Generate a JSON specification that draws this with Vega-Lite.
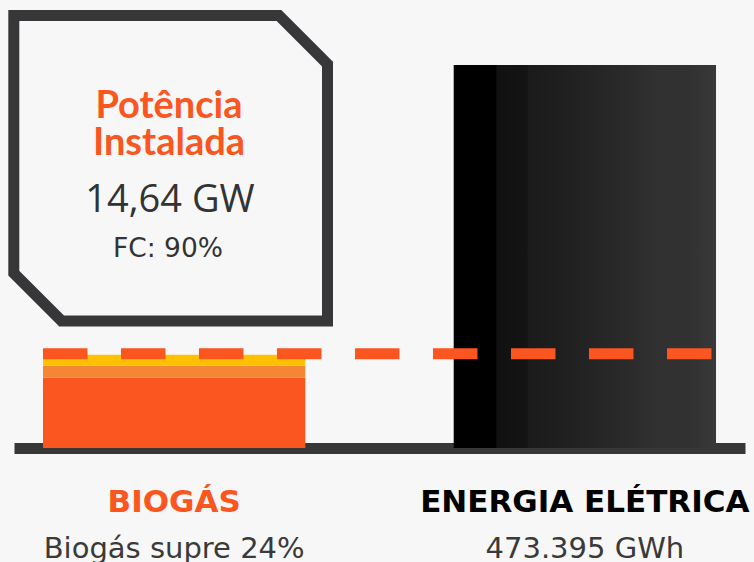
{
  "$schema": "https://vega.github.io/schema/vega-lite/v6.json",
  "width": 731,
  "height": 383,
  "autosize": {"type": "none"},
  "padding": {"left": 14, "top": 65, "right": 9, "bottom": 114},
  "background": "#f7f7f7",
  "config": {
    "view": {"stroke": null},
    "axisX": {"domainColor": "#373638", "domainWidth": 11, "domainCap": "butt", "ticks": false, "labels": false, "grid": false, "zindex": 1}
  },
  "datasets": {
    "biogas": [
      {"categoria": "BIOGÁS", "camada": "base", "ordem": 1, "valor": 86900},
      {"categoria": "BIOGÁS", "camada": "meio", "ordem": 2, "valor": 14830},
      {"categoria": "BIOGÁS", "camada": "topo", "ordem": 3, "valor": 13600}
    ],
    "energia": [
      {"categoria": "ENERGIA ELÉTRICA", "valor": 473395}
    ],
    "referencia": [
      {"de": "BIOGÁS", "ate": "ENERGIA ELÉTRICA", "valor": 116400}
    ],
    "rotulos": [
      {"categoria": "BIOGÁS", "descricao": "Biogás supre 24%"},
      {"categoria": "ENERGIA ELÉTRICA", "descricao": "473.395 GWh"}
    ],
    "moldura": [
      {"ordem": 1, "x": 150, "y": 15.5},
      {"ordem": 2, "x": 279, "y": 15.5},
      {"ordem": 3, "x": 327.5, "y": 64},
      {"ordem": 4, "x": 327.5, "y": 321},
      {"ordem": 5, "x": 61.6, "y": 321},
      {"ordem": 6, "x": 13.8, "y": 273.2},
      {"ordem": 7, "x": 13.8, "y": 15.5},
      {"ordem": 8, "x": 150, "y": 15.5}
    ],
    "cartao": [
      {"titulo": "Potência Instalada", "potencia": "14,64 GW", "fc": "FC: 90%"}
    ]
  },
  "layer": [
    {
      "layer": [
        {
          "data": {"name": "biogas"},
          "mark": {"type": "bar"},
          "encoding": {
            "x": {"field": "categoria", "type": "nominal", "title": null, "scale": {"domain": ["BIOGÁS", "ENERGIA ELÉTRICA"], "paddingInner": 0.3613, "paddingOuter": 0.07056}},
            "y": {"field": "valor", "type": "quantitative", "stack": "zero", "axis": null, "scale": {"domain": [0, 473395], "nice": false}},
            "order": {"field": "ordem"},
            "color": {"field": "camada", "type": "nominal", "legend": null, "scale": {"domain": ["base", "meio", "topo"], "range": ["#FB5620", "#F58634", "#FFC000"]}}
          }
        },
        {
          "data": {"name": "energia"},
          "mark": {
            "type": "bar",
            "color": {
              "gradient": "linear", "x1": 0, "y1": 0, "x2": 1, "y2": 0,
              "stops": [
                {"offset": 0, "color": "#000000"},
                {"offset": 0.16, "color": "#000000"},
                {"offset": 0.165, "color": "#111111"},
                {"offset": 0.28, "color": "#141414"},
                {"offset": 0.285, "color": "#1b1b1b"},
                {"offset": 0.39, "color": "#1e1e1e"},
                {"offset": 0.56, "color": "#262626"},
                {"offset": 0.68, "color": "#2b2b2b"},
                {"offset": 0.76, "color": "#303030"},
                {"offset": 0.91, "color": "#333233"},
                {"offset": 1, "color": "#3a3938"}
              ]
            }
          },
          "encoding": {
            "x": {"field": "categoria", "type": "nominal", "title": null},
            "y": {"field": "valor", "type": "quantitative", "axis": null, "scale": {"domain": [0, 473395], "nice": false}}
          }
        },
        {
          "data": {"name": "referencia"},
          "mark": {"type": "rule", "color": "#FB5620", "strokeWidth": 11, "strokeDash": [44.5, 33.5], "strokeCap": "butt"},
          "encoding": {
            "x": {"field": "de", "type": "nominal", "bandPosition": 0, "title": null},
            "x2": {"field": "ate", "bandPosition": 1},
            "y": {"field": "valor", "type": "quantitative", "axis": null, "scale": {"domain": [0, 473395], "nice": false}}
          }
        },
        {
          "data": {"name": "rotulos"},
          "mark": {"type": "text", "font": "DejaVu Sans", "fontWeight": "bold", "fontSize": 31, "align": "center", "baseline": "alphabetic", "dy": 64},
          "encoding": {
            "x": {"field": "categoria", "type": "nominal", "title": null},
            "y": {"datum": 0, "type": "quantitative", "axis": null, "scale": {"domain": [0, 473395], "nice": false}},
            "text": {"field": "categoria"},
            "color": {"condition": {"test": "datum.categoria === 'BIOGÁS'", "value": "#FB5620"}, "value": "#000000"}
          }
        },
        {
          "data": {"name": "rotulos"},
          "mark": {"type": "text", "font": "DejaVu Sans", "fontSize": 29, "align": "center", "baseline": "alphabetic", "dy": 110, "color": "#3a3a3a"},
          "encoding": {
            "x": {"field": "categoria", "type": "nominal", "title": null},
            "y": {"datum": 0, "type": "quantitative", "axis": null, "scale": {"domain": [0, 473395], "nice": false}},
            "text": {"field": "descricao"}
          }
        }
      ]
    },
    {
      "layer": [
        {
          "data": {"name": "moldura"},
          "mark": {"type": "line", "strokeWidth": 11, "strokeJoin": "miter", "color": "#373638"},
          "encoding": {
            "x": {"field": "x", "type": "quantitative", "axis": null, "scale": {"domain": [14, 745], "nice": false, "zero": false}},
            "y": {"field": "y", "type": "quantitative", "axis": null, "scale": {"domain": [65, 448], "reverse": true, "nice": false, "zero": false}},
            "order": {"field": "ordem"}
          }
        },
        {
          "data": {"name": "cartao"},
          "mark": {"type": "text", "font": "Lato", "fontWeight": "bold", "fontSize": 38, "lineBreak": " ", "lineHeight": 37.3, "align": "center", "baseline": "alphabetic", "color": "#FB5620"},
          "encoding": {
            "x": {"datum": 169, "type": "quantitative"},
            "y": {"datum": 117.7, "type": "quantitative"},
            "text": {"field": "titulo"}
          }
        },
        {
          "data": {"name": "cartao"},
          "mark": {"type": "text", "font": "Open Sans", "fontSize": 38, "align": "center", "baseline": "alphabetic", "color": "#333333"},
          "encoding": {
            "x": {"datum": 170, "type": "quantitative"},
            "y": {"datum": 211.7, "type": "quantitative"},
            "text": {"field": "potencia"}
          }
        },
        {
          "data": {"name": "cartao"},
          "mark": {"type": "text", "font": "DejaVu Sans", "fontSize": 26.5, "align": "center", "baseline": "alphabetic", "color": "#333333"},
          "encoding": {
            "x": {"datum": 168, "type": "quantitative"},
            "y": {"datum": 256.7, "type": "quantitative"},
            "text": {"field": "fc"}
          }
        }
      ]
    }
  ],
  "resolve": {"scale": {"x": "independent", "y": "independent"}}
}
